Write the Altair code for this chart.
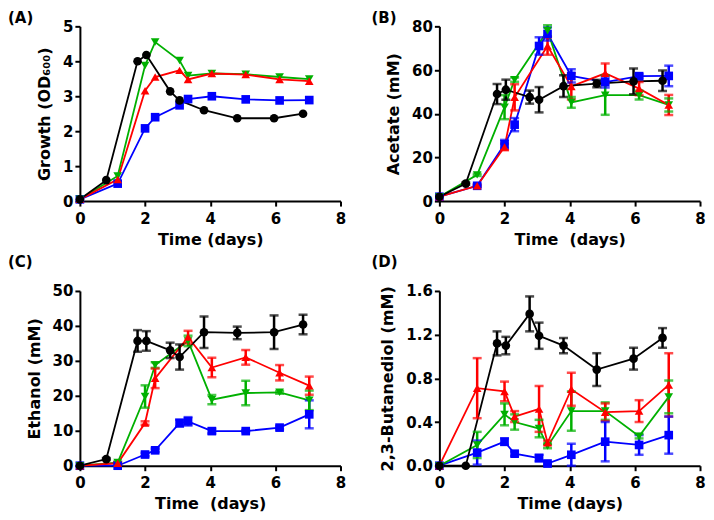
import altair as alt
import pandas as pd

# ---- data ----
SERIES = ["blue", "green", "red", "black"]
COLORS = ["#0000FF", "#00B000", "#FF0000", "#000000"]
SHAPES = ["square", "triangle-down", "triangle-up", "circle"]

TIME_BLACK = [0, 0.81, 1.77, 2.04, 2.77, 3.06, 3.81, 4.83, 5.96, 6.85]
TIME_OTHER = [0, 1.16, 2.0, 2.31, 3.06, 3.32, 4.05, 5.09, 6.13, 7.04]

# Panel A: Growth (OD600)
A_BLACK = [0.05, 0.6, 4.0, 4.18, 3.14, 2.88, 2.6, 2.37, 2.37, 2.5]
A_GREEN = [0.05, 0.72, 3.88, 4.55, 4.02, 3.59, 3.65, 3.63, 3.55, 3.49]
A_RED = [0.05, 0.62, 3.16, 3.55, 3.74, 3.48, 3.65, 3.62, 3.48, 3.43]
A_BLUE = [0.05, 0.5, 2.08, 2.4, 2.74, 2.92, 3.0, 2.91, 2.88, 2.89]

# Panel B: Acetate (mM)
B_BLACK = [2, 8, 49, 51, 47.6, 46.4, 52.6, 53.8, 54.8, 55.1]
B_BLACK_ERR = [0, 0.5, 4.6, 4.6, 3, 5.8, 5, 1.7, 5.9, 4.7]
B_GREEN = [2, 12, 43, 55.6, None, 78, 45.2, 48.5, 48.5, 44]
B_GREEN_ERR = [0, 0.5, 5.5, 1, None, 2.5, 2.5, 9, 2, 3]
B_RED = [2, 7, 24.8, 47.5, None, 71, 52.5, 58.5, 51.5, 44]
B_RED_ERR = [0, 0.5, 1.5, 6, None, 4, 6, 4.5, 3, 4.6]
B_BLUE = [2, 7, 26, 35, 71, 76.5, 57.3, 54.5, 57.2, 57.3]
B_BLUE_ERR = [0, 0.5, 2, 3, 4, 3, 3, 2.5, 1, 4.7]

# Panel C: Ethanol (mM)
C_BLACK = [0, 1.9, 35.7, 35.7, 33.0, 31.1, 38.2, 38.0, 38.2, 40.4]
C_BLACK_ERR = [0, 0.3, 3.1, 2.8, 2.2, 3.6, 4.5, 1.8, 4.8, 2.8]
C_RED = [0, 0.7, 12.2, 25, None, 36.8, 28.1, 31, 26.6, 22.9]
C_RED_ERR = [0, 0.3, 0.5, 2.8, None, 1.8, 2.8, 2.1, 2.2, 2.6]
C_GREEN = [0, 0.9, 19.8, 28.8, None, 35.7, 18.9, 20.8, 21, 18.7]
C_GREEN_ERR = [0, 0.3, 3.2, 0.8, None, 1.5, 1.3, 3.5, 0.4, 2.8]
C_BLUE = [0, 0, 3.2, 4.4, 12.2, 12.7, 9.9, 9.9, 10.9, 14.7]
C_BLUE_ERR = [0, 0, 0.5, 0.5, 1, 1.2, 0.7, 0.3, 0.5, 4]

# Panel D: 2,3-Butanediol (mM)
D_BLACK = [0, 0, 1.12, 1.10, 1.39, 1.19, 1.10, 0.88, 0.98, 1.17]
D_BLACK_ERR = [0, 0, 0.11, 0.08, 0.16, 0.12, 0.07, 0.15, 0.1, 0.09]
D_RED = [0, 0.71, 0.68, 0.45, 0.52, 0.21, 0.70, 0.49, 0.50, 0.74]
D_RED_ERR = [0, 0.275, 0.09, 0.05, 0.21, 0.02, 0.15, 0.08, 0.1, 0.29]
D_GREEN = [0, 0.19, 0.47, 0.40, 0.34, 0.18, 0.50, 0.50, 0.27, 0.63]
D_GREEN_ERR = [0, 0.12, 0.1, 0.07, 0.08, 0.02, 0.18, 0.08, 0.02, 0.15]
D_BLUE = [0, 0.12, 0.22, 0.11, 0.07, 0.02, 0.10, 0.22, 0.19, 0.28]
D_BLUE_ERR = [0, 0.11, 0.03, 0.02, 0.03, 0.01, 0.1, 0.18, 0.09, 0.17]

FONT = "DejaVu Sans"
W, H = 261, 175


def frame(blue, green, red, black, errs=None):
    rows = []
    vals = {"blue": blue, "green": green, "red": red, "black": black}
    for s in SERIES:
        times = TIME_BLACK if s == "black" else TIME_OTHER
        e = errs[s] if errs else [0] * len(times)
        for t, v, er in zip(times, vals[s], e):
            if v is None:
                continue
            er = er or 0
            rows.append({"t": t, "v": v, "lo": v - er, "hi": v + er,
                         "err": er, "series": s, "k": SERIES.index(s)})
    return pd.DataFrame(rows)


def panel(df, label, ytitle, ymax, ystep, xtitle, yfmt, dx, toff):
    color = alt.Color("series:N", scale=alt.Scale(domain=SERIES, range=COLORS), legend=None)
    xenc = alt.X("t:Q", scale=alt.Scale(domain=[0, 8], nice=False),
                 axis=alt.Axis(values=[0, 2, 4, 6, 8], title=xtitle, labelFlush=False,
                               labelPadding=5, titlePadding=5))
    yscale = alt.Scale(domain=[0, ymax], nice=False)
    n = int(round(ymax / ystep))
    yvals = [round(i * ystep, 3) for i in range(n + 1)]

    def yax():
        return alt.Axis(values=yvals, title=ytitle, format=yfmt, labelPadding=2,
                        titlePadding=10)

    base = alt.Chart(df).encode(x=xenc, color=color)
    line = base.mark_line(strokeWidth=1.8).encode(
        y=alt.Y("v:Q", scale=yscale, axis=yax()), order="t:Q", detail="series:N")
    eb = base.transform_filter("datum.err > 0")
    rule = eb.mark_rule(strokeWidth=2.5).encode(
        y=alt.Y("lo:Q", scale=yscale, axis=yax()), y2="hi:Q")
    cap_lo = eb.mark_tick(orient="horizontal", size=9, thickness=2.5).encode(
        y=alt.Y("lo:Q", scale=yscale, axis=yax()))
    cap_hi = eb.mark_tick(orient="horizontal", size=9, thickness=2.5).encode(
        y=alt.Y("hi:Q", scale=yscale, axis=yax()))
    pts = base.mark_point(filled=True, opacity=1, size=75).encode(
        y=alt.Y("v:Q", scale=yscale, axis=yax()),
        shape=alt.Shape("series:N", scale=alt.Scale(domain=SERIES, range=SHAPES), legend=None),
        order="k:Q")
    return alt.layer(line, rule, cap_lo, cap_hi, pts).properties(
        width=W, height=H,
        title=alt.TitleParams(label, anchor="start", frame="group", dx=dx, offset=toff,
                              fontSize=15, font=FONT, fontWeight="bold", color="black"))


dfA = frame(A_BLUE, A_GREEN, A_RED, A_BLACK)
dfB = frame(B_BLUE, B_GREEN, B_RED, B_BLACK,
            {"blue": B_BLUE_ERR, "green": B_GREEN_ERR, "red": B_RED_ERR, "black": B_BLACK_ERR})
dfC = frame(C_BLUE, C_GREEN, C_RED, C_BLACK,
            {"blue": C_BLUE_ERR, "green": C_GREEN_ERR, "red": C_RED_ERR, "black": C_BLACK_ERR})
dfD = frame(D_BLUE, D_GREEN, D_RED, D_BLACK,
            {"blue": D_BLUE_ERR, "green": D_GREEN_ERR, "red": D_RED_ERR, "black": D_BLACK_ERR})

pA = panel(dfA, "(A)", "Growth (OD\u2086\u2080\u2080)", 5, 1, "Time (days)", "d", -72, -7)
pB = panel(dfB, "(B)", "Acetate (mM)", 80, 20, "Time\u00a0 (days)", "d", -68, -7)
pC = panel(dfC, "(C)", "Ethanol (mM)", 50, 10, "Time\u00a0 (days)", "d", -72, 14)
pD = panel(dfD, "(D)", "2,3-Butanediol (mM)", 1.6, 0.4, "Time (days)", ".1f", -68, 14)

chart = alt.concat(pA, pB, pC, pD, columns=2, spacing={"row": 8, "column": 25}).properties(
    padding={"left": 0, "top": 3, "right": 0, "bottom": 5}
).configure_view(stroke=None).configure_axis(
    domainColor="black", domainWidth=2, tickColor="black", tickWidth=2, tickSize=5,
    grid=False, labelFont=FONT, labelFontSize=15, labelFontWeight="bold",
    labelColor="black", titleFont=FONT, titleFontSize=16, titleFontWeight="bold",
    titleColor="black"
)

chart.save("out.html", embed_options={"renderer": "svg", "actions": False})
